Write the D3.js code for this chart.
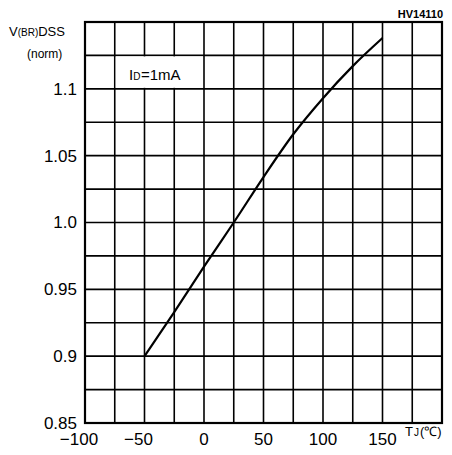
<!DOCTYPE html>
<html>
<head>
<meta charset="utf-8">
<script src="https://cdn.jsdelivr.net/npm/d3@7"></script>
<style>
  body { margin: 0; background: #fff; }
  svg { display: block; font-family: "Liberation Sans", Arial, sans-serif; }
</style>
</head>
<body>
<div id="chart"></div>
<script>
// temperature (C) vs normalised breakdown voltage
var tempC = [-50, -25, 0, 25, 50, 75, 100, 125, 150];
var vNorm = [0.900, 0.933, 0.967, 1.000, 1.034, 1.066, 1.093, 1.117, 1.138];

var xTicks = [-100, -50, 0, 50, 100, 150];
var yTicks = [0.85, 0.9, 0.95, 1.0, 1.05, 1.1];
var yTickLabels = ["0.85", "0.9", "0.95", "1.0", "1.05", "1.1"];
var xGrid = [-75, -50, -25, 0, 25, 50, 75, 100, 125, 150, 175];
var yGrid = [0.875, 0.9, 0.925, 0.95, 0.975, 1.0, 1.025, 1.05, 1.075, 1.1, 1.125];

var outerWidth = 452;
var outerHeight = 455;
var margin = { left: 85, top: 22, right: 10, bottom: 32 };
var innerWidth = outerWidth - margin.left - margin.right;
var innerHeight = outerHeight - margin.top - margin.bottom;

var svg = d3.select('#chart').append('svg')
    .attr('width', outerWidth)
    .attr('height', outerHeight);

var g = svg.append('g')
    .attr('transform', 'translate(' + margin.left + ',' + margin.top + ')');

var xScale = d3.scaleLinear().domain([-100, 200]).range([0, innerWidth]);
var yScale = d3.scaleLinear().domain([0.85, 1.15]).range([innerHeight, 0]);

// grid lines
g.append('g')
    .selectAll('line')
    .data(xGrid)
    .enter().append('line')
    .attr('x1', function (d) { return xScale(d); })
    .attr('x2', function (d) { return xScale(d); })
    .attr('y1', 0)
    .attr('y2', innerHeight)
    .attr('stroke', '#000')
    .attr('stroke-width', 1.6);

g.append('g')
    .selectAll('line')
    .data(yGrid)
    .enter().append('line')
    .attr('x1', 0)
    .attr('x2', innerWidth)
    .attr('y1', function (d) { return yScale(d); })
    .attr('y2', function (d) { return yScale(d); })
    .attr('stroke', '#000')
    .attr('stroke-width', 1.6);

// white box for the test condition label
g.append('rect')
    .attr('x', xScale(-75) + 1)
    .attr('y', yScale(1.125) + 1)
    .attr('width', xScale(0) - xScale(-75) - 2)
    .attr('height', yScale(1.1) - yScale(1.125) - 2)
    .attr('fill', '#fff');

// border
g.append('rect')
    .attr('width', innerWidth)
    .attr('height', innerHeight)
    .attr('fill', 'none')
    .attr('stroke', '#000')
    .attr('stroke-width', 2.2);

// axes (labels only, grid drawn above)
var xAxis = d3.axisBottom(xScale)
    .tickValues(xTicks)
    .tickSize(0)
    .tickPadding(10)
    .tickFormat(function (d) { return d < 0 ? '\u2212' + Math.abs(d) : d; });

var yAxis = d3.axisLeft(yScale)
    .tickValues(yTicks)
    .tickSize(0)
    .tickPadding(8)
    .tickFormat(function (d, i) { return yTickLabels[i]; });

var xAxisG = g.append('g')
    .attr('transform', 'translate(0,' + innerHeight + ')')
    .call(xAxis);
var yAxisG = g.append('g').call(yAxis);

[xAxisG, yAxisG].forEach(function (a) {
    a.select('.domain').remove();
    a.selectAll('text')
        .style('font-size', '17px')
        .style('font-family', '"Liberation Sans", Arial, sans-serif')
        .attr('fill', '#000');
});
// nudge negative labels so the digits sit under the grid line
xAxisG.selectAll('.tick')
    .attr('transform', function (d) {
        return 'translate(' + (xScale(d) + (d < 0 ? -6 : 0)) + ',0)';
    });

// curve
var line = d3.line()
    .x(function (d, i) { return xScale(tempC[i]); })
    .y(function (d) { return yScale(d); })
    .curve(d3.curveMonotoneX);

g.append('path')
    .attr('fill', 'none')
    .attr('stroke', '#000')
    .attr('stroke-width', 2.2)
    .attr('d', line(vNorm));

// labels built from pieces (subscripts as separate small texts)
function pieces(parent, x, y, parts) {
    var cx = x;
    parts.forEach(function (p) {
        var t = parent.append('text')
            .attr('x', cx)
            .attr('y', y)
            .style('font-size', p[1] + 'px')
            .attr('fill', '#000')
            .text(p[0]);
        cx += t.node().getComputedTextLength() + (p[2] || 0);
    });
}

pieces(g, xScale(-63), yScale(1.1) - 9, [['I', 15], ['D', 10, 0.5], ['=1mA', 15]]);
pieces(svg, 9, 36, [['V', 13], ['(BR)', 10], ['DSS', 13]]);
pieces(svg, 405, 436, [['T', 13, 1], ['J', 10, 1], ['(\u2103)', 13]]);

svg.append('text')
    .attr('x', 27)
    .attr('y', 58)
    .style('font-size', '12px')
    .attr('fill', '#000')
    .text('(norm)');

svg.append('text')
    .attr('x', 443)
    .attr('y', 18)
    .attr('text-anchor', 'end')
    .style('font-size', '11px')
    .style('font-weight', 'bold')
    .attr('fill', '#000')
    .text('HV14110');
</script>
</body>
</html>
